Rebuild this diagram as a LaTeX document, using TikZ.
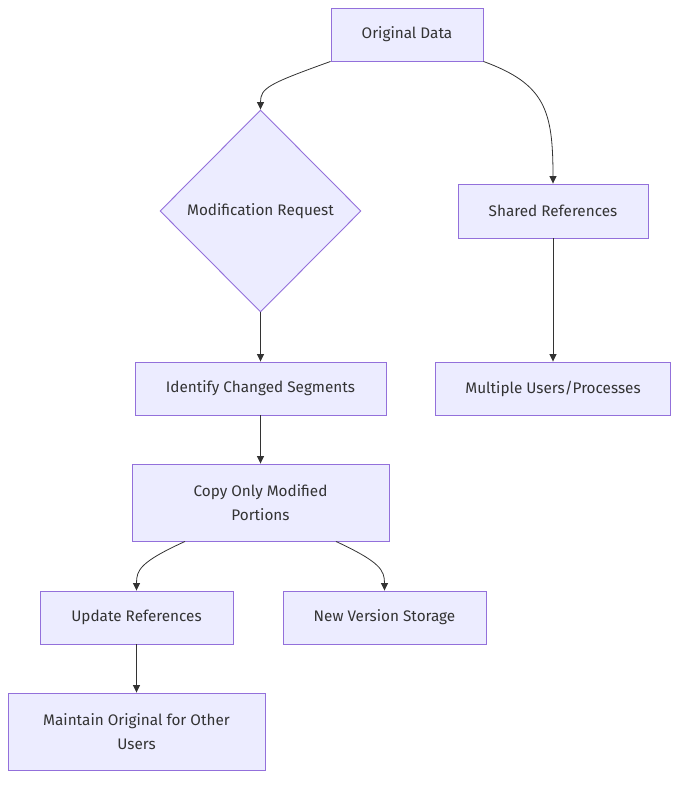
\documentclass[tikz,border=0pt]{standalone}
\usepackage{fontspec}
\setmainfont{Fira Sans}
\usepackage{xcolor}
\usetikzlibrary{positioning,arrows.meta,shapes.geometric}
\definecolor{boxfill}{HTML}{ECECFF}
\definecolor{boxline}{HTML}{9370DB}
\definecolor{ink}{HTML}{333333}

\begin{document}
\begin{tikzpicture}[x=1pt,y=-1pt,
  box/.style={draw=boxline, fill=boxfill, line width=0.9pt, text=ink,
              font=\fontsize{15.3}{24}\selectfont, align=center, inner sep=0pt},
  decide/.style={diamond, draw=boxline, fill=boxfill, line width=0.9pt, text=ink,
                 font=\fontsize{15.3}{24}\selectfont, inner sep=0pt,
                 minimum width=201pt, minimum height=202pt},
  arr/.style={-{Triangle[length=7.5pt,width=7pt]}, line width=0.8pt, ink},
]
\useasboundingbox (0,0) rectangle (686,788);

% top of the tree
\node[box, minimum width=152pt, minimum height=53pt] (od) at (407,34.5) {Original Data};
\node[decide] (mr) at (260.5,211) {Modification Request};
\node[box, minimum width=190pt, minimum height=54pt] (sr) at (553,211) {Shared References};

% left branch
\node[box, minimum width=251pt, minimum height=53pt] (ic) at (260.5,388.5) {Identify Changed Segments};
\node[box, minimum width=257pt, minimum height=77pt] (co) at (260.5,502.5) {Copy Only Modified\\Portions};
\node[box, minimum width=193pt, minimum height=53pt] (ur) at (136.5,617.5) {Update References};
\node[box, minimum width=203pt, minimum height=53pt] (nv) at (384.5,617.5) {New Version Storage};
\node[box, minimum width=257pt, minimum height=77pt] (mo) at (136.5,731.5) {Maintain Original for Other\\Users};

% right branch
\node[box, minimum width=235pt, minimum height=53pt] (mu) at (553,388.5) {Multiple Users/Processes};

% connectors
\draw[arr] (od.south west) .. controls (268,84) and (260.5,88) .. (mr.north);
\draw[arr] (od.south east) .. controls (545,84) and (553,110) .. (sr.north);
\draw[arr] (mr.south) -- (ic.north);
\draw[arr] (ic.south) -- (co.north);
\draw[arr] (co.south west -| 185,0) .. controls (140,562) and (136.5,570) .. (ur.north);
\draw[arr] (co.south east -| 336,0) .. controls (380,562) and (384.5,570) .. (nv.north);
\draw[arr] (ur.south) -- (mo.north);
\draw[arr] (sr.south) -- (mu.north);
\end{tikzpicture}
\end{document}
